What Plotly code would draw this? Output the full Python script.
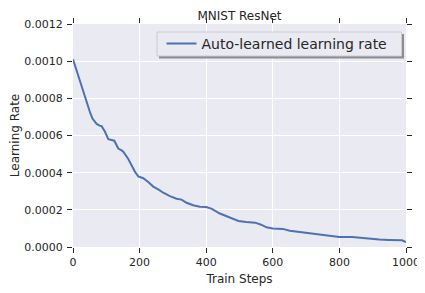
import plotly.graph_objects as go

steps = [0, 12, 24, 36, 43, 52, 59, 71, 80, 86, 96, 106, 124, 130, 136, 146, 151, 166, 176, 186,
         196, 211, 226, 241, 256, 271, 291, 311, 326, 341, 361, 381, 400, 417, 441, 471, 497, 520,
         547, 565, 581, 600, 630, 651, 677, 705, 737, 778, 800, 838, 860, 888, 920, 948, 988, 1000]
lr = [0.00101, 0.00094, 0.00087, 0.00080, 0.000765, 0.00072, 0.00069, 0.000662, 0.000653, 0.00065,
      0.00062, 0.00058, 0.000572, 0.00055, 0.00053, 0.00052, 0.000513, 0.000474, 0.00044, 0.000405,
      0.00038, 0.00037, 0.00035, 0.000325, 0.00031, 0.000292, 0.000274, 0.00026, 0.000255, 0.000238,
      0.000225, 0.000217, 0.000215, 0.000205, 0.00018, 0.000158, 0.00014, 0.000135, 0.000131, 0.00012,
      0.000106, 0.0001, 0.0000975, 0.000088, 0.000082, 0.000075, 0.000065, 0.000056, 0.000054, 0.000054,
      0.00005, 0.000043, 0.00004, 0.000038, 0.000036, 0.000027]

x_ticks = [0, 200, 400, 600, 800, 1000]
y_ticks = [0.0, 0.0002, 0.0004, 0.0006, 0.0008, 0.0010, 0.0012]

series_name = "Auto-learned learning rate"
title = "MNIST ResNet"

FONT = "DejaVu Sans"
TXT = "#262626"

OFF = 8  # page body margin
W, H = 425 - OFF, 293 - OFF
L, R, T, B = 73 - OFF, 19, 24 - OFF, 46
PW, PH = W - L - R, H - T - B


def px_x(p):
    return (p - OFF - L) / PW


def px_y(p):
    return 1 - (p - OFF - T) / PH


fig = go.Figure()
fig.add_trace(go.Scatter(x=steps, y=lr, mode="lines", name=series_name,
                         line=dict(color="#4C72B0", width=2)))

# legend shadow and frame
fig.add_shape(type="rect", xref="paper", yref="paper",
              x0=px_x(159), x1=px_x(404), y0=px_y(58.5), y1=px_y(34),
              fillcolor="#8C8C94", line=dict(width=0), layer="above")
fig.add_shape(type="rect", xref="paper", yref="paper",
              x0=px_x(157), x1=px_x(401.5), y0=px_y(56), y1=px_y(32),
              fillcolor="#EAEAF2", line=dict(width=1, color="#CCCCCC"), layer="above")

fig.update_layout(
    width=W, height=H,
    margin=dict(l=L, r=R, t=T, b=B, autoexpand=False),
    paper_bgcolor="white", plot_bgcolor="#EAEAF2",
    font=dict(family=FONT, color=TXT, size=11),
    title=dict(text=title, x=(239.5 - OFF) / W, xanchor="center",
               y=1 - (15.5 - OFF) / H, yanchor="middle",
               font=dict(size=12, color=TXT)),
    showlegend=True,
    legend=dict(x=px_x(161.5), xanchor="left", y=px_y(44), yanchor="middle",
                bgcolor="rgba(0,0,0,0)", borderwidth=0,
                font=dict(size=14, color=TXT)),
    xaxis=dict(range=[0, 1000], tickvals=x_ticks, ticktext=[str(v) for v in x_ticks],
               showgrid=True, gridcolor="white", gridwidth=1, zeroline=False,
               ticks="outside", ticklen=5, tickcolor=TXT, tickwidth=1,
               mirror="ticks", showline=False, automargin=False,
               title=dict(text="Train Steps", font=dict(size=12), standoff=6)),
    yaxis=dict(range=[0, 0.0012], tickvals=y_ticks, tickformat=".4f",
               showgrid=True, gridcolor="white", gridwidth=1, zeroline=False,
               ticks="outside", ticklen=5, tickcolor=TXT, tickwidth=1,
               mirror="ticks", showline=False, automargin=False, ticklabelstandoff=2,
               title=dict(text="Learning Rate", font=dict(size=12), standoff=6)),
)

fig.write_html("out.html")
